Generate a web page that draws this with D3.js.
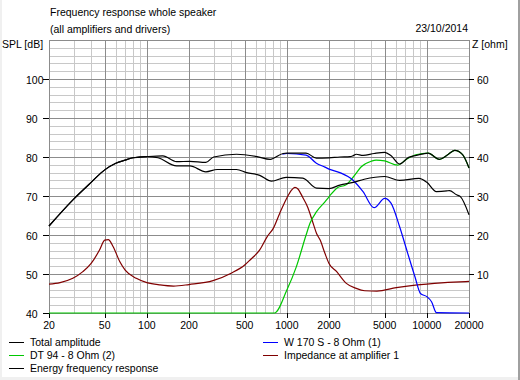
<!DOCTYPE html>
<meta charset="utf-8">
<style>
  body { margin: 0; background: #fff; }
  svg { display: block; }
  text { font-family: "Liberation Sans", Arial, sans-serif; font-size: 10.5px; fill: #000; }
  .grid-minor { stroke: #c8c8c8; stroke-width: 1; shape-rendering: crispEdges; }
  .grid-major { stroke: #8c8c8c; stroke-width: 1; shape-rendering: crispEdges; }
  .tick { stroke: #000; shape-rendering: crispEdges; }
  .curve { fill: none; stroke-width: 1.2; }
</style>
<body>
<script src="https://cdn.jsdelivr.net/npm/d3@7"></script>
<script>

var width = 520,
    height = 380;

// tick labels
var freqTicks = [20, 50, 100, 200, 500, 1000, 2000, 5000, 10000, 20000];
var freqMinor = [30, 40, 60, 70, 80, 90, 300, 400, 600, 700, 800, 900,
                 3000, 4000, 6000, 7000, 8000, 9000];
var splTicks = [40, 50, 60, 70, 80, 90, 100];
var ohmTicks = [10, 20, 30, 40, 50, 60];

// Total amplitude (dB)
var totalF = [20, 30, 40, 50, 60, 70, 80, 100, 130, 163, 203, 264, 300, 437, 612, 760, 940, 1000,
              1372, 1625, 2000, 2390, 2830, 2960, 3130, 3500, 4200, 5000, 5560, 6390, 7410, 8400,
              10200, 12300, 14000, 15800, 18000, 20000];
var totalDb = [62.3, 69.2, 73.5, 76.7, 78.4, 79.2, 79.8, 80.1, 80.3, 78.8, 78.9, 78.6, 80, 80.7, 80.1, 79.4, 80.9, 81,
               81, 79.7, 79.8, 80, 80.1, 80.3, 80.7, 80.4, 80.9, 81.2, 80.3, 78.2, 79.9, 80.4,
               81, 79.4, 80.5, 81.7, 80.6, 77.2];

// Energy frequency response (dB)
var energyF = [20, 30, 40, 50, 60, 70, 80, 100, 120, 163, 203, 264, 318, 437, 516, 640, 776, 990,
               1300, 1630, 2000, 2390, 2980, 3570, 5000, 6390, 8780, 10000, 11700, 13900, 14500,
               16300, 17300, 20000];
var energyDb = [62.3, 69.2, 73.5, 76.7, 78.4, 79.2, 79.8, 80.1, 79.8, 77.7, 77.7, 76.2, 76.8, 76.8, 76, 75.3, 73.8, 74.8,
                74.6, 72, 71.9, 72.8, 73.5, 74.3, 75, 74, 74.5, 73.5, 71.1, 71.3, 71.4,
                70.3, 69.9, 65.2];

// W 170 S - 8 Ohm (1)
var wooferF = [930, 1000, 1372, 1625, 1871, 2000, 2390, 2960, 3500, 4200, 5000, 5560, 6390,
               7300, 8220, 9000, 10000, 10800, 11700, 20000];
var wooferDb = [80.7, 80.9, 80.5, 78.4, 77.4, 76.9, 76, 74.1, 71.1, 67, 69.4, 68.1, 62.1,
                55.3, 49.3, 45, 44.2, 42.9, 40.1, 40];

// DT 94 - 8 Ohm (2)
var tweeterF = [20, 815, 1000, 1170, 1372, 1463, 1630, 1871, 2000, 2310, 2630, 3000, 3400, 4000,
                4340, 5000, 6170, 7150, 8220, 9000, 10200, 12300, 14000, 15800, 18000, 20000];
var tweeterDb = [40, 40, 45.9, 51.9, 60, 63, 66, 68.5, 69.8, 72.2, 72.8, 75, 77.5, 78.9,
                 79.2, 79, 77.9, 79.4, 80.5, 80.8, 81, 79.4, 80.5, 81.7, 80.6, 77.2];

// Impedance at amplifier 1 (ohm)
var impF = [20, 24, 29.6, 34.9, 40, 46, 50, 53, 57.5, 64, 70, 84, 100, 124, 155, 200, 297, 400,
            500, 546, 640, 724, 800, 890, 1000, 1080, 1142, 1200, 1300, 1414, 1540, 1630, 1730,
            1870, 2000, 2270, 2660, 3130, 3600, 4400, 6050, 8000, 10000, 15600, 20000];
var impOhm = [7.4, 7.8, 8.9, 10.6, 12.7, 16.2, 18.7, 18.8, 17, 13.2, 11, 8.9, 7.8, 7.2, 6.9, 7.3, 8.3, 10.2,
              12.3, 13.6, 16.2, 19.6, 21.7, 25.6, 29.5, 31.5, 32.2, 31.8, 29.6, 27, 23, 20.4, 18.7,
              15.3, 12.7, 10.6, 7.6, 6.3, 5.7, 5.6, 6.5, 7.1, 7.4, 7.9, 8.1];

var svg = d3.select("body").append("svg")
    .attr("width", width)
    .attr("height", height);

// window frame edges
svg.append("rect").attr("x", 0).attr("y", 0).attr("width", 2).attr("height", height).attr("fill", "#f0f0f0");
svg.append("rect").attr("x", 518).attr("y", 0).attr("width", 2).attr("height", height).attr("fill", "#a0a0a0");
svg.append("rect").attr("x", 0).attr("y", 377).attr("width", 518).attr("height", 3).attr("fill", "#f0f0f0");

var x = d3.scaleLog().domain([20, 20000]).range([49, 469]);
var y = d3.scaleLinear().domain([40, 110]).range([313, 40]);
var yZ = d3.scaleLinear().domain([0, 70]).range([313, 40]);

// grid
var g = svg.append("g");
g.selectAll(".hmin").data(d3.range(40, 111, 2).filter(function(d) { return d % 10 != 0; }))
  .enter().append("line").attr("class", "grid-minor")
  .attr("x1", x(20)).attr("x2", x(20000))
  .attr("y1", function(d) { return Math.round(y(d)) + 0.5; })
  .attr("y2", function(d) { return Math.round(y(d)) + 0.5; });
g.selectAll(".vmin").data(freqMinor)
  .enter().append("line").attr("class", "grid-minor")
  .attr("y1", y(40)).attr("y2", y(110))
  .attr("x1", function(d) { return Math.round(x(d)) + 0.5; })
  .attr("x2", function(d) { return Math.round(x(d)) + 0.5; });
g.selectAll(".hmaj").data(d3.range(40, 111, 10))
  .enter().append("line").attr("class", "grid-major")
  .attr("x1", x(20)).attr("x2", x(20000))
  .attr("y1", function(d) { return Math.round(y(d)) + 0.5; })
  .attr("y2", function(d) { return Math.round(y(d)) + 0.5; });
g.selectAll(".vmaj").data(freqTicks)
  .enter().append("line").attr("class", "grid-major")
  .attr("y1", y(40)).attr("y2", y(110))
  .attr("x1", function(d) { return Math.round(x(d)) + 0.5; })
  .attr("x2", function(d) { return Math.round(x(d)) + 0.5; });

// axes
var ax = svg.append("g");
ax.selectAll(".lt").data(splTicks).enter().append("line").attr("class", "tick")
  .attr("x1", 43).attr("x2", 49)
  .attr("y1", function(d) { return Math.round(y(d)) + 0.5; })
  .attr("y2", function(d) { return Math.round(y(d)) + 0.5; });
ax.selectAll(".ll").data(splTicks).enter().append("text")
  .attr("x", 26).attr("y", function(d) { return y(d) + 4.5; })
  .text(function(d) { return d; });

ax.selectAll(".rt").data(ohmTicks).enter().append("line").attr("class", "tick")
  .attr("x1", 469).attr("x2", 474)
  .attr("y1", function(d) { return Math.round(yZ(d)) + 0.5; })
  .attr("y2", function(d) { return Math.round(yZ(d)) + 0.5; });
ax.selectAll(".rl").data(ohmTicks).enter().append("text")
  .attr("x", 477).attr("y", function(d) { return yZ(d) + 4.5; })
  .text(function(d) { return d; });

ax.selectAll(".bt").data(freqTicks).enter().append("line").attr("class", "tick")
  .attr("y1", 313).attr("y2", 318)
  .attr("x1", function(d) { return Math.round(x(d)) + 0.5; })
  .attr("x2", function(d) { return Math.round(x(d)) + 0.5; });
ax.selectAll(".bl").data(freqTicks).enter().append("text")
  .attr("x", function(d) { return x(d); }).attr("y", 329)
  .attr("text-anchor", "middle").text(function(d) { return d; });

// curves
var splLine = d3.line()
  .x(function(d) { return x(d[0]); })
  .y(function(d) { return y(d[1]); })
  .curve(d3.curveMonotoneX);
var ohmLine = d3.line()
  .x(function(d) { return x(d[0]); })
  .y(function(d) { return yZ(d[1]); })
  .curve(d3.curveMonotoneX);

function pairs(f, v) { return f.map(function(d, i) { return [d, v[i]]; }); }

svg.append("path").attr("class", "curve").attr("stroke", "#800000")
  .attr("d", ohmLine(pairs(impF, impOhm)));
svg.append("path").attr("class", "curve").attr("stroke", "#00c800")
  .attr("d", splLine(pairs(tweeterF, tweeterDb)));
svg.append("path").attr("class", "curve").attr("stroke", "#0000ff")
  .attr("d", splLine(pairs(wooferF, wooferDb)));
svg.append("path").attr("class", "curve").attr("stroke", "#000")
  .attr("d", splLine(pairs(energyF, energyDb)));
svg.append("path").attr("class", "curve").attr("stroke", "#000")
  .attr("d", splLine(pairs(totalF, totalDb)));

// titles
svg.append("text").attr("x", 50).attr("y", 16).text("Frequency response whole speaker");
svg.append("text").attr("x", 50).attr("y", 33).text("(all amplifiers and drivers)");
svg.append("text").attr("x", 468).attr("y", 32).attr("text-anchor", "end").text("23/10/2014");
svg.append("text").attr("x", 2).attr("y", 48).text("SPL [dB]");
svg.append("text").attr("x", 472).attr("y", 48).text("Z [ohm]");

// legend
var legend = [
  { name: "Total amplitude", color: "#000", x: 9, y: 342 },
  { name: "DT 94 - 8 Ohm (2)", color: "#00c800", x: 9, y: 355 },
  { name: "Energy frequency response", color: "#000", x: 9, y: 368 },
  { name: "W 170 S - 8 Ohm (1)", color: "#0000ff", x: 263, y: 342 },
  { name: "Impedance at amplifier 1", color: "#800000", x: 263, y: 355 }
];
var lg = svg.selectAll(".legend").data(legend).enter().append("g");
lg.append("line")
  .attr("x1", function(d) { return d.x; }).attr("x2", function(d) { return d.x + 15; })
  .attr("y1", function(d) { return d.y + 0.5; }).attr("y2", function(d) { return d.y + 0.5; })
  .attr("stroke", function(d) { return d.color; }).attr("shape-rendering", "crispEdges");
lg.append("text")
  .attr("x", function(d) { return d.x + 21; }).attr("y", function(d) { return d.y + 4; })
  .text(function(d) { return d.name; });

</script>
